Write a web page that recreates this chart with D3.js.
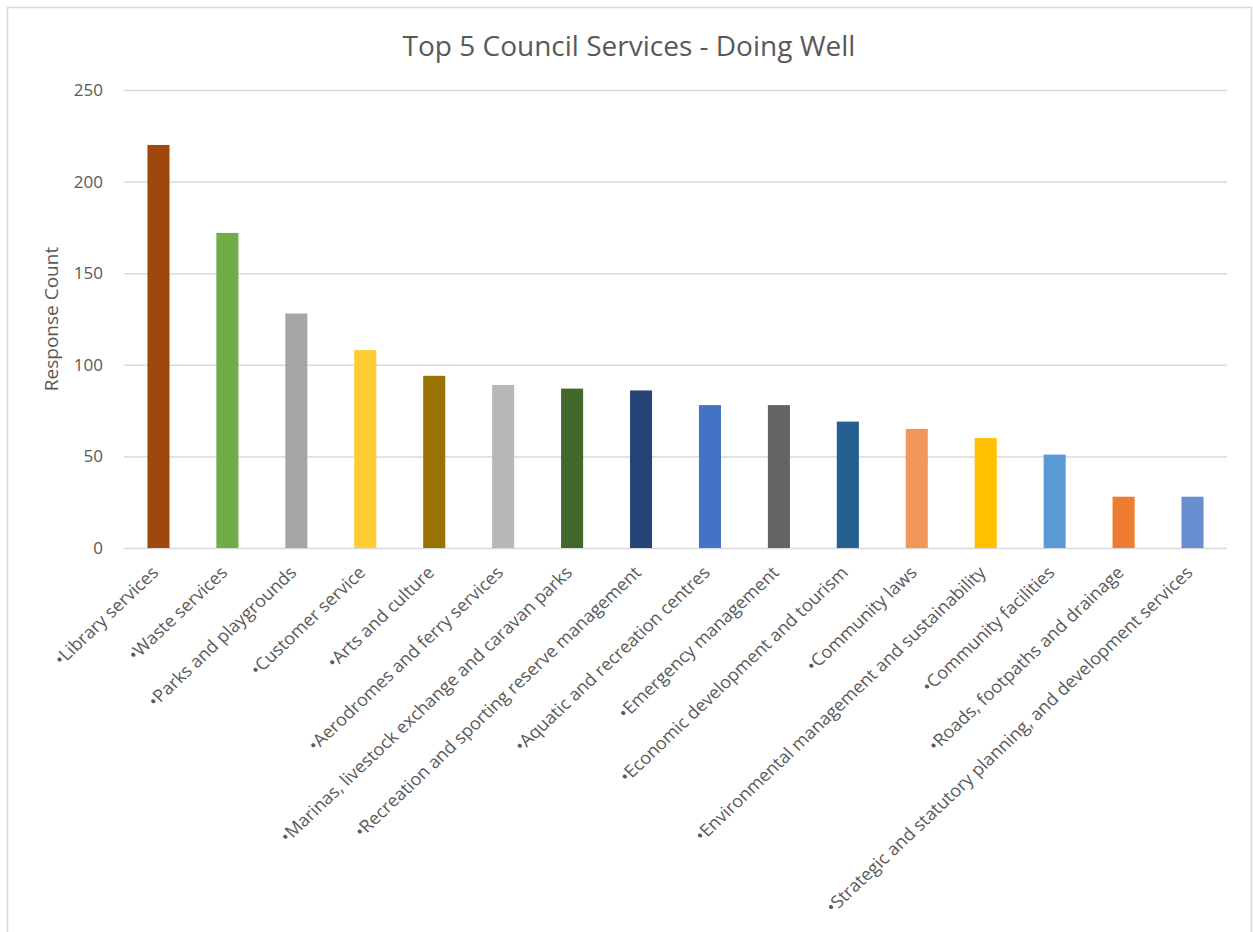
<!DOCTYPE html>
<html>
<head>
<meta charset="utf-8">
<script src="https://cdn.jsdelivr.net/npm/d3@7"></script>
<style>
  html, body { margin: 0; padding: 0; background: #fff; }
  svg { display: block; }
  text { font-family: "Open Sans", "Liberation Sans", Arial, sans-serif; fill: #595959; }
</style>
</head>
<body>
<svg id="chart" width="1253" height="932"></svg>
<script>
const title = "Top 5 Council Services - Doing Well";
const yAxisTitle = "Response Count";
const categories = [
  "•Library services",
  "•Waste services",
  "•Parks and playgrounds",
  "•Customer service",
  "•Arts and culture",
  "•Aerodromes and ferry services",
  "•Marinas, livestock exchange and caravan parks",
  "•Recreation and sporting reserve management",
  "•Aquatic and recreation centres",
  "•Emergency management",
  "•Economic development and tourism",
  "•Community laws",
  "•Environmental management and sustainability",
  "•Community facilities",
  "•Roads, footpaths and drainage",
  "•Strategic and statutory planning, and development services"
];
const values = [220, 172, 128, 108, 94, 89, 87, 86, 78, 78, 69, 65, 60, 51, 28, 28];
const colors = ["#9E480E", "#70AD47", "#A5A5A5", "#FFCD33", "#997300", "#B7B7B7",
  "#43682B", "#264478", "#4472C4", "#636363", "#255E91", "#F1975A",
  "#FFC000", "#5B9BD5", "#ED7D31", "#698ED0"];
const yTicks = [0, 50, 100, 150, 200, 250];

const FONT = '"Open Sans", "Liberation Sans", Arial, sans-serif';
const svg = d3.select("#chart");
const W = 1253, H = 932;
const plot = { left: 124, right: 1227, top: 90, bottom: 548 };

// chart frame
svg.append("rect")
  .attr("x", 7.5).attr("y", 7.5)
  .attr("width", W - 9).attr("height", H + 10)
  .attr("fill", "#fff").attr("stroke", "#D9D9D9").attr("stroke-width", 1.5);

const x = d3.scaleBand().domain(categories)
  .range([plot.left, plot.right]).paddingInner(0.68).paddingOuter(0.34);
const y = d3.scaleLinear().domain([0, 250]).range([plot.bottom, plot.top]);

// gridlines
const grid = d3.axisLeft(y).tickValues(yTicks).tickSize(-(plot.right - plot.left)).tickFormat("");
svg.append("g").attr("transform", `translate(${plot.left},0)`).call(grid)
  .call(g => g.select(".domain").remove())
  .call(g => g.selectAll("line").attr("stroke", "#D9D9D9").attr("stroke-width", 1.5));

// y tick labels
const yAxis = d3.axisLeft(y).tickValues(yTicks).tickSize(0).tickPadding(21);
svg.append("g").attr("transform", `translate(${plot.left},0)`).call(yAxis)
  .call(g => g.select(".domain").remove())
  .call(g => g.selectAll("text")
    .style("font-family", FONT)
    .attr("font-size", 17).attr("fill", "#595959"));

// bars
svg.append("g").selectAll("rect").data(categories).join("rect")
  .attr("x", d => x(d))
  .attr("width", x.bandwidth())
  .attr("y", (d, i) => y(values[i]))
  .attr("height", (d, i) => y(0) - y(values[i]))
  .attr("fill", (d, i) => colors[i]);

// x labels (reference is slightly stretched horizontally)
const xAxis = d3.axisBottom(x).tickSize(0).tickPadding(0);
svg.append("g").attr("transform", `translate(0,${plot.bottom})`).call(xAxis)
  .call(g => g.select(".domain").remove())
  .call(g => g.selectAll("text")
    .style("font-family", FONT)
    .attr("font-size", 17.2).attr("fill", "#595959")
    .attr("text-anchor", "end")
    .attr("x", 0).attr("y", 0).attr("dy", "0.72em")
    .attr("transform", "translate(-8,17) scale(1.06,1) rotate(-45)"));

// y title
svg.append("text")
  .attr("transform", `translate(58,${(plot.top + plot.bottom) / 2}) rotate(-90)`)
  .attr("text-anchor", "middle")
  .attr("font-size", 19)
  .text(yAxisTitle);

// title
svg.append("text")
  .attr("x", 629).attr("y", 56)
  .attr("text-anchor", "middle")
  .attr("font-size", 28)
  .text(title);
</script>
</body>
</html>
